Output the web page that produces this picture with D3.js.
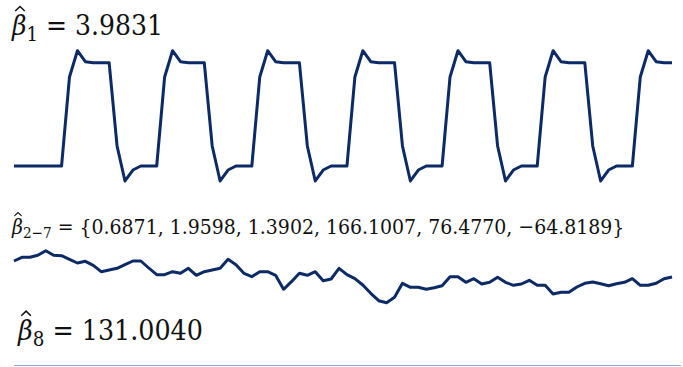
<!DOCTYPE html>
<html><head><meta charset="utf-8">
<script src="https://cdn.jsdelivr.net/npm/d3@7"></script>
<style>body{margin:0;background:#fff}svg{display:block}</style>
</head><body>
<script>
// Top series: seasonal pattern (plateau = 1)
const beta1Series = [
0,0,0,0,0,0,
0,0.862,1.116,1.010,1,1,1,0.194,-0.145,-0.039,0,0,
0,0.862,1.116,1.010,1,1,1,0.194,-0.145,-0.039,0,0,
0,0.862,1.116,1.010,1,1,1,0.194,-0.145,-0.039,0,0,
0,0.862,1.116,1.010,1,1,1,0.194,-0.145,-0.039,0,0,
0,0.862,1.116,1.010,1,1,1,0.194,-0.145,-0.039,0,0,
0,0.862,1.116,1.010,1,1,1,0.194,-0.145,-0.039,0,0,
0,0.862,1.116,1.010,1,1
];
// Middle series: covariate component
const beta27Series = [
49,52.7,52.7,54.7,59.3,54.7,54.3,50.7,47,48.7,44.7,38.3,40,41.7,45.3,49,49,42,35.3,35.3,38.3,36.7,
41.7,34.7,38.3,40,41.7,50.7,45.3,36.7,33.3,38.3,38.3,34.7,20.7,28.3,36.7,34.7,38.3,29.3,31,41.7,
35.3,31.3,25,16.7,9.3,7.3,12.7,26.7,22.7,22.7,20.7,22.3,24.3,33.3,33.3,27.7,31.3,26,27.7,32.7,
27.7,24.7,26,29.7,24.7,24.7,16,17.7,17.7,23,26.7,28,26.3,24.3,26.3,27.7,31.3,24.7,24.7,26.7,31.3,33
];
const labels = [
  {sub:"1", rest:" = 3.9831"},
  {sub:"2\u22127", rest:" = {0.6871, 1.9598, 1.3902, 166.1007, 76.4770, \u221264.8189}"},
  {sub:"8", rest:" = 131.0040"}
];

const W = 683, H = 367;
const navy = "#0b2a66";
const FF = "'DejaVu Serif Condensed', 'DejaVu Serif', serif";
const svg = d3.select("body").append("svg").attr("width", W).attr("height", H);

const x = d3.scaleLinear().domain([0, beta1Series.length - 1]).range([14, 672]);
const yTop = d3.scaleLinear().domain([0, 1]).range([166, 62.7]);
const yMid = d3.scaleLinear().domain([0, 100]).range([310, 210]);

svg.append("path").datum(beta1Series)
  .attr("d", d3.line().x((d,i)=>x(i)).y(d=>yTop(d)))
  .attr("fill","none").attr("stroke",navy).attr("stroke-width",3).attr("stroke-linejoin","round");
svg.append("path").datum(beta27Series)
  .attr("d", d3.line().x((d,i)=>x(i)).y(d=>yMid(d)))
  .attr("fill","none").attr("stroke",navy).attr("stroke-width",3).attr("stroke-linejoin","round");

// bottom rule
svg.append("line").attr("x1",14).attr("x2",681).attr("y1",365.5).attr("y2",365.5)
  .attr("stroke","#8faadc").attr("stroke-width",1.2);

const pos = [{x:12,y:35,fs:24,xEnd:163},{x:12,y:234,fs:18,xEnd:625},{x:18,y:340,fs:24,xEnd:203}];
labels.forEach((l,k)=>{
  const p = pos[k];
  const t = svg.append("text").attr("x",p.x).attr("y",p.y)
    .attr("font-family",FF).attr("fill","#111");
  function build(fs){
    t.selectAll("tspan").remove();
    t.attr("font-size",fs);
    const b = t.append("tspan").attr("font-style","italic").text("\u03b2");
    t.append("tspan").attr("font-size",fs*0.72).attr("dy",fs*0.2).text(l.sub);
    t.append("tspan").attr("dy",-fs*0.2).text(l.rest);
    return b;
  }
  let b = build(p.fs);
  const w = t.node().getComputedTextLength();
  const fs = p.fs*(p.xEnd-p.x)/w;
  b = build(fs);
  const bw = b.node().getComputedTextLength();
  // hat accent drawn as a small chevron over the beta
  const cx = p.x + bw*0.55, hw = fs*0.17;
  const base = p.y - fs*0.86, peak = p.y - fs*1.02;
  svg.append("path")
    .attr("d", `M${cx-hw},${base} L${cx},${peak} L${cx+hw},${base}`)
    .attr("fill","none").attr("stroke","#111").attr("stroke-width",fs*0.055)
    .attr("stroke-linejoin","miter");
});
</script>
</body></html>
